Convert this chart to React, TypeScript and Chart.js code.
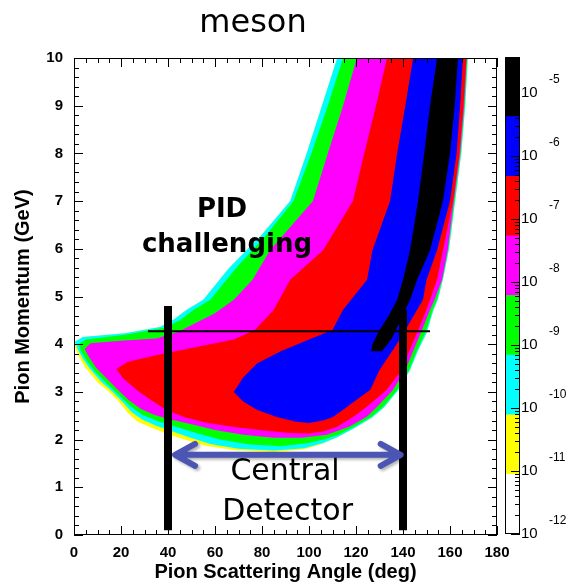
import React, { useEffect, useRef } from 'react';
import { Chart, registerables } from 'chart.js';

Chart.register(...registerables);

const W = 569;
const H = 587;

// Contours of the 2D histogram: [pion scattering angle (deg), pion momentum (GeV)]
const contourYellow: [number, number][] = [
  [112, 10], [105.5, 9], [99, 8], [92, 7], [80, 6.3], [66, 5.6], [55, 4.93], [48, 4.72], [42, 4.5],
  [36.6, 4.36], [21.7, 4.23], [3.8, 4.15], [0.3, 4.05], [0.3, 3.95], [2, 3.75], [5, 3.5], [10, 3.2],
  [15, 3.0], [19, 2.8], [23, 2.55], [27, 2.38], [33, 2.25], [40, 2.12], [47, 2.0], [56, 1.87], [68, 1.78],
  [85, 1.74], [98, 1.8], [106, 1.92], [112, 2.05], [120, 2.26], [127, 2.47], [132, 2.68], [138, 3.04],
  [143, 3.46], [146.5, 3.88], [150, 4.23], [153, 4.72], [154.8, 4.93], [157.2, 5.4], [159.6, 6],
  [162.2, 7], [164.8, 8], [166.5, 9], [167.6, 10],
];
const contourCyan: [number, number][] = [
  [112, 10], [105.5, 9], [99, 8], [92, 7], [80, 6.3], [66, 5.6], [55, 4.93], [48, 4.72], [42, 4.5],
  [36.6, 4.36], [21.7, 4.23], [3.8, 4.15], [0.4, 4.05], [1.5, 3.9], [3.5, 3.72], [6.5, 3.5], [11.5, 3.22],
  [16.5, 3.0], [20.5, 2.8], [24.5, 2.58], [29, 2.42], [35, 2.29], [42, 2.17], [49, 2.05], [58, 1.91],
  [70, 1.81], [85, 1.77], [98, 1.82], [106, 1.93], [112, 2.05], [120, 2.26], [127, 2.47], [132, 2.68],
  [138, 3.04], [143, 3.46], [146.5, 3.88], [150, 4.23], [153, 4.72], [154.8, 4.93], [157.2, 5.4],
  [159.6, 6], [162.2, 7], [164.8, 8], [166.5, 9], [167.6, 10],
];
const contourGreen: [number, number][] = [
  [114.5, 10], [108, 9], [101, 8], [93.4, 7], [82, 6.3], [69, 5.6], [58, 4.93], [51, 4.72], [45, 4.5],
  [39, 4.35], [22, 4.2], [5, 4.1], [2, 4.0], [3, 3.85], [5.5, 3.65], [9, 3.42], [14, 3.17], [19, 2.94],
  [24, 2.7], [29, 2.52], [36, 2.38], [44, 2.26], [52, 2.14], [62, 2.0], [74, 1.9], [88, 1.86], [100, 1.93],
  [107, 2.01], [112.5, 2.1], [119.5, 2.28], [126.5, 2.48], [131.5, 2.69], [137.5, 3.04], [142.5, 3.46],
  [146, 3.88], [149.4, 4.23], [152.6, 4.72], [154.4, 4.93], [156.9, 5.4], [159.3, 6], [161.9, 7],
  [164.5, 8], [166.2, 9], [167.3, 10],
];
const contourMagenta: [number, number][] = [
  [120.4, 10], [114.5, 9], [108, 8], [101.7, 7], [83.4, 5.97], [76, 5.35], [68, 4.93], [60, 4.65],
  [52, 4.45], [44, 4.25], [35, 4.12], [20, 4.07], [7, 4.02], [4.5, 3.9], [6.5, 3.72], [9.5, 3.5],
  [13.5, 3.3], [18.5, 3.05], [23.5, 2.82], [28.5, 2.64], [34, 2.52], [41, 2.42], [50, 2.32], [60, 2.2],
  [72, 2.1], [85, 2.04], [97, 2.04], [107.6, 2.1], [117, 2.27], [124.6, 2.48], [129, 2.69], [135.7, 3.04],
  [141, 3.46], [144.5, 3.88], [147.5, 4.23], [151.5, 4.72], [153.4, 4.93], [156.6, 5.35], [159, 5.97],
  [161.6, 7], [164.3, 8], [166, 9], [167.1, 10],
];
const contourRed: [number, number][] = [
  [133.2, 10], [128.5, 9], [123.5, 8], [118.7, 7], [106, 5.97], [92, 5.35], [85, 4.72], [77, 4.3],
  [68, 4.1], [50, 3.92], [35, 3.77], [23, 3.63], [18, 3.48], [21, 3.28], [27, 3.03], [33, 2.82],
  [39, 2.63], [47, 2.47], [57, 2.35], [69, 2.26], [81, 2.19], [92, 2.14], [100, 2.13], [106, 2.17],
  [112, 2.27], [119, 2.48], [124.6, 2.69], [133, 3.04], [139.5, 3.46], [143, 3.9], [146.5, 4.3],
  [150, 4.72], [151.5, 4.93], [154.5, 5.35], [157, 5.97], [161.3, 7], [164, 8], [165.7, 9], [167, 10],
];
const contourBlue: [number, number][] = [
  [144.3, 10], [141, 9], [137.5, 8], [134.5, 7], [127, 5.97], [124.7, 5.35], [114.5, 4.72], [110, 4.3],
  [100, 4.1], [88, 3.85], [78, 3.6], [72, 3.3], [68, 3.0], [72, 2.8], [78, 2.62], [86, 2.48], [94, 2.38],
  [100, 2.35], [106, 2.4], [110, 2.47], [116, 2.68], [122, 2.9], [126, 3.04], [130, 3.46], [136, 3.9],
  [141, 4.3], [146, 4.72], [148.5, 4.93], [150, 5.35], [154.5, 5.97], [160, 7], [162.8, 8], [164.3, 9],
  [165.5, 10],
];
const contourBlack: [number, number][] = [
  [154.5, 10], [151.5, 9], [149, 8], [146.4, 7], [143, 5.97], [140, 5.35], [137.5, 4.93], [134, 4.6],
  [130, 4.3], [127, 4.0], [126.5, 3.85], [131, 3.85], [135, 4.1], [138.5, 4.45], [141, 4.72],
  [143, 4.93], [146, 5.35], [151.5, 5.97], [157, 7], [160, 8], [162, 9], [163.4, 10],
];

const bandContours = [contourYellow, contourCyan, contourGreen, contourMagenta, contourRed, contourBlue, contourBlack];
const bandColors = ['#ffff00', '#00ffff', '#00ff00', '#ff00ff', '#ff0000', '#0000ff', '#000000'];

// Overlays (data coordinates)
const detectorEdges = [40, 140];
const detectorTops = [4.8, 4.72];
const detectorBottom = 0.1;
const pidLineAngles = [31.5, 151.5];
const pidLineMomentum = 4.27;
const arrowAngles = [43, 139];
const arrowMomentum = 1.68;
const noteTexts = ['PID', 'challenging', 'Central', 'Detector'];
const noteAngles = [63, 65.1, 89.8, 90.9];
const noteMomenta = [6.81, 6.08, 1.32, 0.48];

// Palette (colour bar), log10 of bin content
const paletteLogEdges = [-12, -11.054, -10.108, -9.161, -8.215, -7.269, -6.323, -5.376, -4.43];
const paletteColors = ['#ffffff', '#ffff00', '#00ffff', '#00ff00', '#ff00ff', '#ff0000', '#0000ff', '#000000'];
const paletteDecades = [-12, -11, -10, -9, -8, -7, -6, -5];

const tickFont = { family: '"Liberation Sans", Arial, sans-serif', size: 15, weight: 'bold' as const };
const titleFont = { family: '"Liberation Sans", Arial, sans-serif', size: 20, weight: 'bold' as const };

const framePlugin = {
  id: 'frameTicks',
  afterDatasetsDraw(chart: any) {
    const { ctx, chartArea: a, scales } = chart;
    const xs = scales.x;
    const ys = scales.y;
    ctx.save();
    ctx.strokeStyle = '#000';
    ctx.lineWidth = 1;
    ctx.strokeRect(a.left + 0.5, a.top + 0.5, a.right - a.left - 1, a.bottom - a.top - 1);
    ctx.beginPath();
    for (let i = 0; i <= 36; i++) {
      const v = i * 5;
      const px = Math.round(xs.getPixelForValue(v)) + 0.5;
      const len = i % 4 === 0 ? 9 : 5;
      ctx.moveTo(px, a.bottom);
      ctx.lineTo(px, a.bottom - len);
      ctx.moveTo(px, a.top);
      ctx.lineTo(px, a.top + len);
    }
    for (let i = 0; i <= 50; i++) {
      const v = i / 5;
      const py = Math.round(ys.getPixelForValue(v)) + 0.5;
      const len = i % 5 === 0 ? 9 : 5;
      ctx.moveTo(a.left, py);
      ctx.lineTo(a.left + len, py);
      ctx.moveTo(a.right, py);
      ctx.lineTo(a.right - len, py);
    }
    ctx.stroke();
    ctx.restore();
  },
};

const notesPlugin = {
  id: 'notes',
  afterDraw(chart: any) {
    const { ctx, scales } = chart;
    const xs = scales.x;
    const ys = scales.y;
    ctx.save();
    // title
    ctx.fillStyle = '#000';
    ctx.textAlign = 'center';
    ctx.textBaseline = 'middle';
    ctx.font = '32px "DejaVu Sans", sans-serif';
    ctx.fillText('meson', 253, 24);
    // notes
    noteTexts.forEach((t, i) => {
      ctx.font = i < 2 ? 'bold 26px "DejaVu Sans", sans-serif' : '30px "DejaVu Sans", sans-serif';
      ctx.fillText(t, xs.getPixelForValue(noteAngles[i]), ys.getPixelForValue(noteMomenta[i]));
    });
    // double arrow
    const x1 = xs.getPixelForValue(arrowAngles[0]);
    const x2 = xs.getPixelForValue(arrowAngles[1]);
    const py = ys.getPixelForValue(arrowMomentum);
    ctx.strokeStyle = '#4b55b4';
    ctx.lineWidth = 6;
    ctx.lineCap = 'round';
    ctx.lineJoin = 'round';
    ctx.shadowColor = 'rgba(0,0,0,0.3)';
    ctx.shadowBlur = 3;
    ctx.shadowOffsetX = 2;
    ctx.shadowOffsetY = 2;
    ctx.beginPath();
    ctx.moveTo(x1 + 3, py);
    ctx.lineTo(x2 - 3, py);
    ctx.moveTo(x1 + 20, py - 11);
    ctx.lineTo(x1, py);
    ctx.lineTo(x1 + 20, py + 11);
    ctx.moveTo(x2 - 20, py - 11);
    ctx.lineTo(x2, py);
    ctx.lineTo(x2 - 20, py + 11);
    ctx.stroke();
    ctx.restore();
  },
};

const palettePlugin = {
  id: 'paletteAxis',
  afterDatasetsDraw(chart: any) {
    const { ctx, chartArea: a, scales } = chart;
    const y = scales.y;
    ctx.save();
    ctx.strokeStyle = '#000';
    ctx.lineWidth = 1;
    ctx.strokeRect(a.left + 0.5, a.top + 0.5, a.right - a.left - 1, a.bottom - a.top - 1);
    ctx.beginPath();
    const maxV = Math.pow(10, paletteLogEdges[paletteLogEdges.length - 1]);
    for (const k of paletteDecades) {
      for (let m = 1; m <= 9; m++) {
        const v = m * Math.pow(10, k);
        if (v > maxV) continue;
        const p = Math.round(y.getPixelForValue(v)) + 0.5;
        const len = m === 1 ? 9 : 5;
        ctx.moveTo(a.right, p);
        ctx.lineTo(a.right - len, p);
      }
    }
    ctx.stroke();
    ctx.fillStyle = '#000';
    ctx.textAlign = 'left';
    ctx.textBaseline = 'middle';
    for (const k of paletteDecades) {
      const p = y.getPixelForValue(Math.pow(10, k));
      ctx.font = '15px "Liberation Sans", Arial, sans-serif';
      ctx.fillText('10', a.right + 1, p);
      ctx.font = '12px "Liberation Sans", Arial, sans-serif';
      ctx.fillText(String(k), a.right + 29, p - 13);
    }
    ctx.restore();
  },
};

export default function App() {
  const mainRef = useRef<HTMLCanvasElement>(null);
  const barRef = useRef<HTMLCanvasElement>(null);

  useEffect(() => {
    document.body.style.margin = '0';
    const bandSets = bandContours.map((c, i) => ({
      data: c.map(([x, y]) => ({ x, y })),
      showLine: true,
      fill: 'shape',
      backgroundColor: bandColors[i],
      borderWidth: 0,
      pointRadius: 0,
      order: 20 - i,
    }));
    const barSets = detectorEdges.map((e, i) => ({
      data: [{ x: e, y: detectorBottom }, { x: e, y: detectorTops[i] }],
      showLine: true,
      fill: false,
      borderColor: '#000',
      borderWidth: 8,
      borderCapStyle: 'butt',
      pointRadius: 0,
      order: 1,
    }));
    const lineSet = {
      data: pidLineAngles.map((a) => ({ x: a, y: pidLineMomentum })),
      showLine: true,
      fill: false,
      borderColor: '#000',
      borderWidth: 2,
      pointRadius: 0,
      order: 2,
    };

    const main = new Chart(mainRef.current!, {
      type: 'scatter',
      data: { datasets: [...bandSets, lineSet, ...barSets] as any },
      options: {
        animation: false,
        responsive: false,
        events: [],
        layout: { padding: { left: 0, right: 72, top: 58, bottom: 0 } },
        plugins: { legend: { display: false }, tooltip: { enabled: false }, title: { display: false } },
        scales: {
          x: {
            type: 'linear',
            min: 0,
            max: 180,
            grid: { display: false, drawTicks: false },
            border: { display: false },
            ticks: { stepSize: 20, font: tickFont, color: '#000', padding: 9, maxRotation: 0, autoSkip: false },
            title: { display: true, text: 'Pion Scattering Angle (deg)', font: titleFont, color: '#000', padding: { top: 0, bottom: 3 } },
            afterFit: (s: any) => { s.height = 52; },
          },
          y: {
            type: 'linear',
            min: 0,
            max: 10,
            grid: { display: false, drawTicks: false },
            border: { display: false },
            ticks: { stepSize: 1, font: tickFont, color: '#000', padding: 11 },
            title: { display: true, text: 'Pion Momentum (GeV)', font: titleFont, color: '#000', padding: { top: 11, bottom: 0 } },
            afterFit: (s: any) => { s.width = 74; },
          },
        },
      } as any,
      plugins: [framePlugin, notesPlugin],
    });

    const bar = new Chart(barRef.current!, {
      type: 'bar',
      data: {
        labels: ['z'],
        datasets: paletteColors.map((c, i) => ({
          data: [[Math.pow(10, paletteLogEdges[i]), Math.pow(10, paletteLogEdges[i + 1])]],
          backgroundColor: c,
          borderWidth: 0,
          barPercentage: 1,
          categoryPercentage: 1,
          grouped: false,
        })) as any,
      },
      options: {
        animation: false,
        responsive: false,
        events: [],
        layout: { padding: { left: 505, right: 49, top: 57, bottom: 53 } },
        plugins: { legend: { display: false }, tooltip: { enabled: false } },
        scales: {
          x: { type: 'category', display: false },
          y: {
            type: 'logarithmic',
            display: false,
            min: Math.pow(10, paletteLogEdges[0]),
            max: Math.pow(10, paletteLogEdges[paletteLogEdges.length - 1]),
          },
        },
      } as any,
      plugins: [palettePlugin],
    });

    return () => {
      main.destroy();
      bar.destroy();
    };
  }, []);

  return (
    <div style={{ position: 'relative', width: W, height: H, background: '#fff' }}>
      <canvas ref={mainRef} width={W} height={H} style={{ position: 'absolute', left: 0, top: 0 }} />
      <canvas ref={barRef} width={W} height={H} style={{ position: 'absolute', left: 0, top: 0, pointerEvents: 'none' }} />
    </div>
  );
}
